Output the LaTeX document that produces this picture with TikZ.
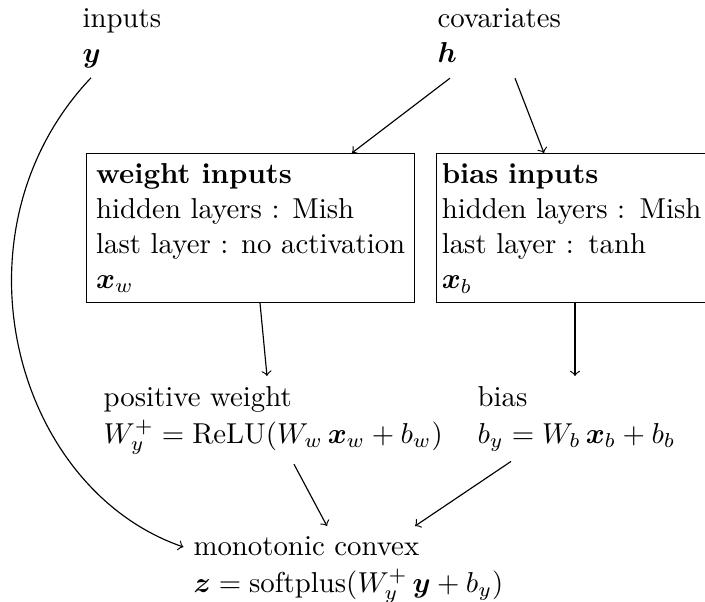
\documentclass[tikz,border=0pt]{standalone}
\usepackage{amsmath}
\usetikzlibrary{calc}
\begin{document}
\begin{tikzpicture}[x=0.3472pt,y=-0.3472pt,
  lbl/.style={align=left},
  inbox/.style={draw, align=left},
  conn/.style={->}]
\useasboundingbox (0,0) rectangle (705,601);

% align nodes: the base anchor is at the baseline of the last line
\node[lbl, anchor=base west] (inp) at (72.4,62) {inputs\\$\boldsymbol{y}$};
\node[lbl, anchor=base west] (cov) at (427.4,62) {covariates\\$\boldsymbol{h}$};

\node[inbox, anchor=base west] (wbox) at (86,288.5)
  {\textbf{weight inputs}\\[0.2pt]hidden layers : Mish\\[0.2pt]last layer : no activation\\[0.2pt]$\boldsymbol{x}_w$};
\node[inbox, anchor=base west, inner xsep=1.8pt, text width=91pt] (bbox) at (436,183.3)
  {\textbf{bias inputs}\\[0.2pt]hidden layers : Mish\\[0.2pt]last layer : tanh\\[0.2pt]$\boldsymbol{x}_b$};

\node[lbl, anchor=base west] (pw) at (93.4,443)
  {positive weight\\[0.8pt]$W_y^+ = \mathrm{ReLU}(W_w\,\boldsymbol{x}_w + b_w)$};
\node[lbl, anchor=base west] (bias) at (467.4,443)
  {bias\\[0.8pt]$b_y = W_b\,\boldsymbol{x}_b + b_b$};
\node[lbl, anchor=base west] (mono) at (183.4,592)
  {monotonic convex\\[0.8pt]$\boldsymbol{z} = \mathrm{softplus}(W_y^+\,\boldsymbol{y} + b_y)$};

\draw[conn] (inp.south -| 91,0) .. controls (-54,231) and (13,488) .. (mono.west |- 0,547);
\draw[conn] ($(cov.south -| 450,0)+(0,6)$) -- (wbox.north -| 352,0);
\draw[conn] ($(cov.south -| 515,0)+(0,6)$) -- (bbox.north -| 544,0);
\draw[conn] (wbox.south -| 260,0) -- (pw.north -| 267,0);
\draw[conn] (bbox.south -| 575,0) -- (bias.north -| 575,0);
\draw[conn] (pw.south -| 294,0) -- (mono.north -| 327,0);
\draw[conn] (bias.south -| 511,0) -- (mono.north -| 415,0);
\end{tikzpicture}
\end{document}
